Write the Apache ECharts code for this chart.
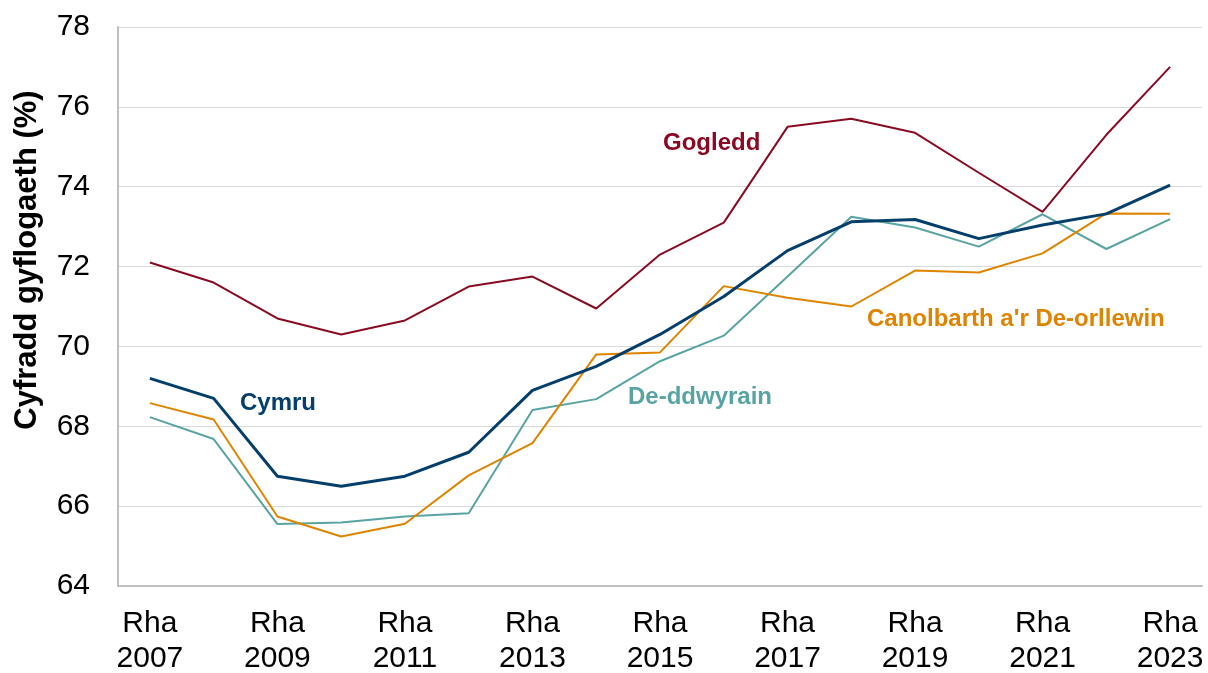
<!DOCTYPE html>
<html>
<head>
<meta charset="utf-8">
<script src="https://cdn.jsdelivr.net/npm/echarts@6/dist/echarts.min.js"></script>
<style>
  html, body { margin: 0; padding: 0; background: #fff; }
  #chart { width: 1208px; height: 673px; }
</style>
</head>
<body>
<div id="chart"></div>
<script>
// --- Data ---
var years = ['Rha\n2007', 'Rha\n2008', 'Rha\n2009', 'Rha\n2010', 'Rha\n2011', 'Rha\n2012', 'Rha\n2013', 'Rha\n2014',
             'Rha\n2015', 'Rha\n2016', 'Rha\n2017', 'Rha\n2018', 'Rha\n2019', 'Rha\n2020', 'Rha\n2021', 'Rha\n2022', 'Rha\n2023'];
var gogledd    = [72.1, 71.6, 70.7, 70.3, 70.65, 71.5, 71.75, 70.95, 72.3, 73.1, 75.5, 75.7, 75.35, 74.35, 73.37, 75.3, 77.0];
var cymru      = [69.2, 68.7, 66.75, 66.5, 66.75, 67.35, 68.9, 69.5, 70.3, 71.25, 72.4, 73.12, 73.18, 72.7, 73.04, 73.32, 74.04];
var canolbarth = [68.58, 68.17, 65.74, 65.24, 65.56, 66.77, 67.58, 69.8, 69.85, 71.51, 71.22, 71.0, 71.9, 71.85, 72.33, 73.33, 73.32];
var deddwyrain = [68.23, 67.68, 65.55, 65.59, 65.74, 65.82, 68.41, 68.68, 69.63, 70.27, 71.75, 73.25, 72.98, 72.5, 73.31, 72.44, 73.19];

var FONT = 'Liberation Sans, Arial, sans-serif';
var C_GOG = '#8a0a24';
var C_CYM = '#043f6b';
var C_CAN = '#de8400';
var C_DED = '#58a4a2';

function lineSeries(name, data, color, width) {
  return {
    name: name, type: 'line', data: data, symbol: 'none',
    lineStyle: { color: color, width: width }, itemStyle: { color: color },
    z: width > 2 ? 5 : 3
  };
}

var chart = echarts.init(document.getElementById('chart'));
chart.setOption({
  animation: false,
  textStyle: { fontFamily: FONT },
  grid: { left: 118, right: 6, top: 27, bottom: 87, containLabel: false, outerBoundsMode: 'none' },
  xAxis: {
    type: 'category', data: years, boundaryGap: true,
    axisLine: { lineStyle: { color: '#bfbfbf', width: 2 } },
    axisTick: { show: false },
    axisLabel: { interval: 1, color: '#000', fontSize: 30, lineHeight: 35, margin: 20, fontFamily: FONT }
  },
  yAxis: {
    type: 'value', min: 64, max: 78, interval: 2,
    axisLine: { show: true, lineStyle: { color: '#bfbfbf', width: 2 } },
    axisTick: { show: false },
    splitLine: { lineStyle: { color: '#d9d9d9', width: 1 } },
    axisLabel: { color: '#000', fontSize: 30, margin: 28, fontFamily: FONT }
  },
  graphic: [
    { type: 'text', rotation: Math.PI / 2, x: 27, y: 260,
      style: { text: 'Cyfradd gyflogaeth (%)', font: 'bold 31px ' + FONT, fill: '#000', align: 'center', verticalAlign: 'middle' } },
    { type: 'text', x: 663, y: 143, style: { text: 'Gogledd', font: 'bold 24px ' + FONT, fill: C_GOG, verticalAlign: 'middle' } },
    { type: 'text', x: 240, y: 403, style: { text: 'Cymru', font: 'bold 24px ' + FONT, fill: C_CYM, verticalAlign: 'middle' } },
    { type: 'text', x: 628, y: 397, style: { text: 'De-ddwyrain', font: 'bold 24px ' + FONT, fill: C_DED, verticalAlign: 'middle' } },
    { type: 'text', x: 867, y: 319, style: { text: "Canolbarth a'r De-orllewin", font: 'bold 24px ' + FONT, fill: C_CAN, verticalAlign: 'middle' } }
  ],
  series: [
    lineSeries('Gogledd', gogledd, C_GOG, 2),
    lineSeries('De-ddwyrain', deddwyrain, C_DED, 2),
    lineSeries('Canolbarth', canolbarth, C_CAN, 2),
    lineSeries('Cymru', cymru, C_CYM, 3)
  ]
});
</script>
</body>
</html>
